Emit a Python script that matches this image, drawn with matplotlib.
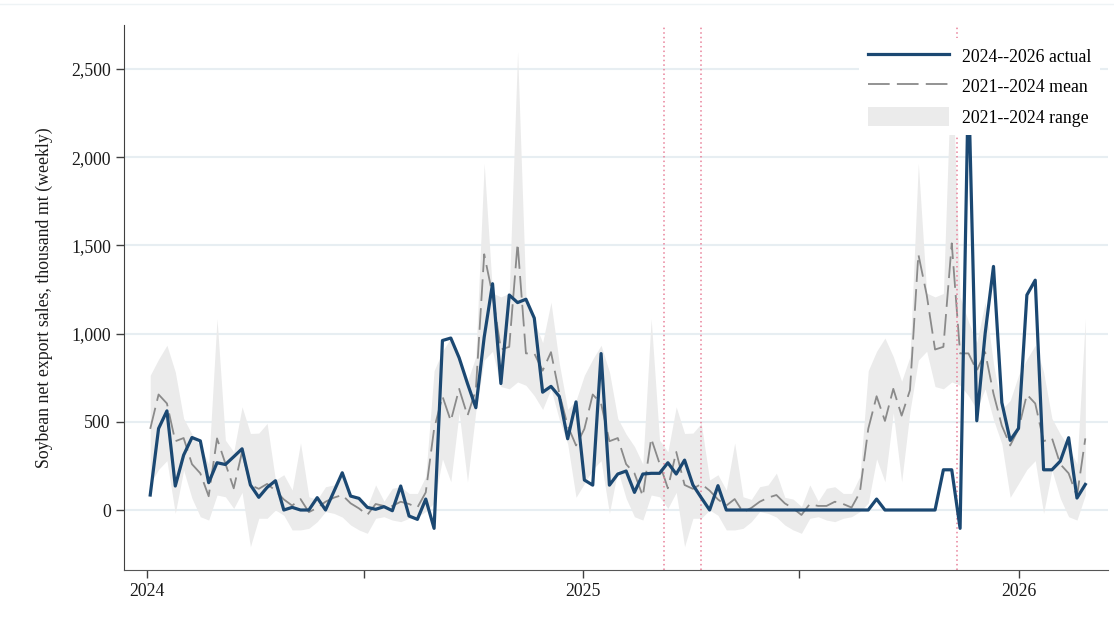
import numpy as np
import pandas as pd
import matplotlib
matplotlib.use('Agg')
import matplotlib.pyplot as plt
from matplotlib.ticker import FuncFormatter

plt.rcParams['font.family'] = ['Liberation Serif', 'DejaVu Serif']

# weekly US soybean net export sales, thousand mt (week ending Thursday)
first_week = '2024-01-04'
actual = [
    85, 462, 562, 136, 311, 411, 392, 155, 268, 258, 302, 347, 142, 72, 128, 166, 0, 15,
    0, 0, 70, 0, 105, 211, 79, 66, 15, 4, 19, -4, 136, -34, -53, 62, -104,
    961, 975, 863, 717, 580, 980, 1283, 717, 1219, 1176, 1195, 1088, 668, 701, 644, 404,
    613, 170, 141, 887, 141,
    204, 221, 100, 204, 208, 208, 268, 204, 283, 142, 70, 0, 138,
    0, 0, 0, 0, 0, 0, 0, 0, 0, 0, 0, 0, 0, 0, 0, 0, 0, 0,
    62,
    0, 0, 0, 0, 0, 0, 0,
    228, 228, -104, 2450, 506, 1000, 1381, 609, 395, 463, 1219, 1303, 228, 228, 277, 410, 68, 145,
]

# 2021-2024 seasonal profile, one value per marketing week (52 weeks from early January)
mean_by_week = [
    460, 655, 604, 390, 408, 260, 208, 78, 406, 264, 123, 330, 142, 120, 148, 110, 60, 25,
    62, -12, 12, 47, 70, 85, 38, 9, -28, 34, 23, 23, 47, 34, 14, 100,
    460, 645, 505, 687, 535, 680, 1450, 1220, 910, 925, 1512, 888, 888, 790, 895, 660, 478, 366,
]
low_by_week = [
    150, 230, 280, -19, 226, 66, -38, -57, 85, 75, 9, 100, -208, -47, -47, 0, -30, -113,
    -113, -104, -66, -9, -19, -40, -85, -113, -132, -47, -38, -57, -66, -47, -38, -9,
    40, 290, 160, 551, 160, 560, 850, 900, 700, 687, 726, 707, 648, 570, 687, 512, 375, 72,
]
high_by_week = [
    764, 855, 934, 783, 519, 430, 360, 260, 1085, 396, 330, 585, 434, 436, 491, 170, 200, 113,
    380, 75, 60, 132, 142, 209, 72, 62, 20, 142, 50, 123, 132, 94, 94, 190,
    790, 900, 975, 870, 730, 870, 1965, 1230, 1208, 1228, 2600, 1208, 1069, 949, 1178, 830, 571, 621,
]

events = ['2025-03-10', '2025-04-10', '2025-11-10']
tick_dates = ['2024-01-01', '2024-07-01', '2025-01-01', '2025-07-01', '2026-01-01']
tick_labels = ['2024', '', '2025', '', '2026']

weeks = pd.date_range(first_week, periods=len(actual), freq='7D')
slot = np.arange(len(actual)) % 52
mean_line = np.array(mean_by_week)[slot]
low_line = np.array(low_by_week)[slot]
high_line = np.array(high_by_week)[slot]

fs = 12.8
fig = plt.figure(figsize=(11.14, 6.26), dpi=100)
ax = fig.add_axes([0.1113, 0.0895, 0.8833, 0.8706])

rng = ax.fill_between(weeks, low_line, high_line, color='#ebebeb', lw=0, zorder=1)
mn, = ax.plot(weeks, mean_line, color='#8a8a8a', lw=1.3, dashes=(12, 4), zorder=2)
act, = ax.plot(weeks, actual, color='#1b4872', lw=2.3, zorder=3)

for d in events:
    ax.axvline(pd.Timestamp(d), color='#e8819a', lw=1.1, ls=(0, (1, 2)), zorder=2.5)

ax.set_ylim(-340, 2750)
ax.set_xlim(pd.Timestamp('2023-12-13'), pd.Timestamp('2026-03-17'))
ax.set_yticks([0, 500, 1000, 1500, 2000, 2500])
ax.yaxis.set_major_formatter(FuncFormatter(lambda v, p: f'{v:,.0f}'))
ax.set_xticks(pd.to_datetime(tick_dates))
ax.set_xticklabels(tick_labels)

ax.grid(axis='y', color='#e7eef2', lw=1.5, zorder=0)
ax.set_axisbelow(True)
for s in ['top', 'right']:
    ax.spines[s].set_visible(False)
ax.spines['left'].set_color('#404040')
ax.spines['bottom'].set_color('#555555')
ax.tick_params(axis='both', direction='out', length=6, width=1, color='#404040',
               labelsize=fs, labelcolor='#1a1a1a')
ax.set_ylabel('Soybean net export sales, thousand mt (weekly)', fontsize=fs,
              color='#1a1a1a', labelpad=13)

leg = ax.legend([act, mn, rng], ['2024--2026 actual', '2021--2024 mean', '2021--2024 range'],
                loc='upper right', bbox_to_anchor=(0.992, 0.977), fontsize=fs,
                handlelength=4.55, handleheight=1.25, handletextpad=0.73, labelspacing=0.62,
                borderpad=0.5, frameon=True, fancybox=False, borderaxespad=0)
leg.get_frame().set_edgecolor('none')
leg.get_frame().set_facecolor('white')
leg.get_frame().set_alpha(1)
leg.set_zorder(5)

fig.add_artist(plt.Line2D([0, 1], [0.994, 0.994], color='#eef3f5', lw=1))

fig.savefig('out.png', dpi=100)
